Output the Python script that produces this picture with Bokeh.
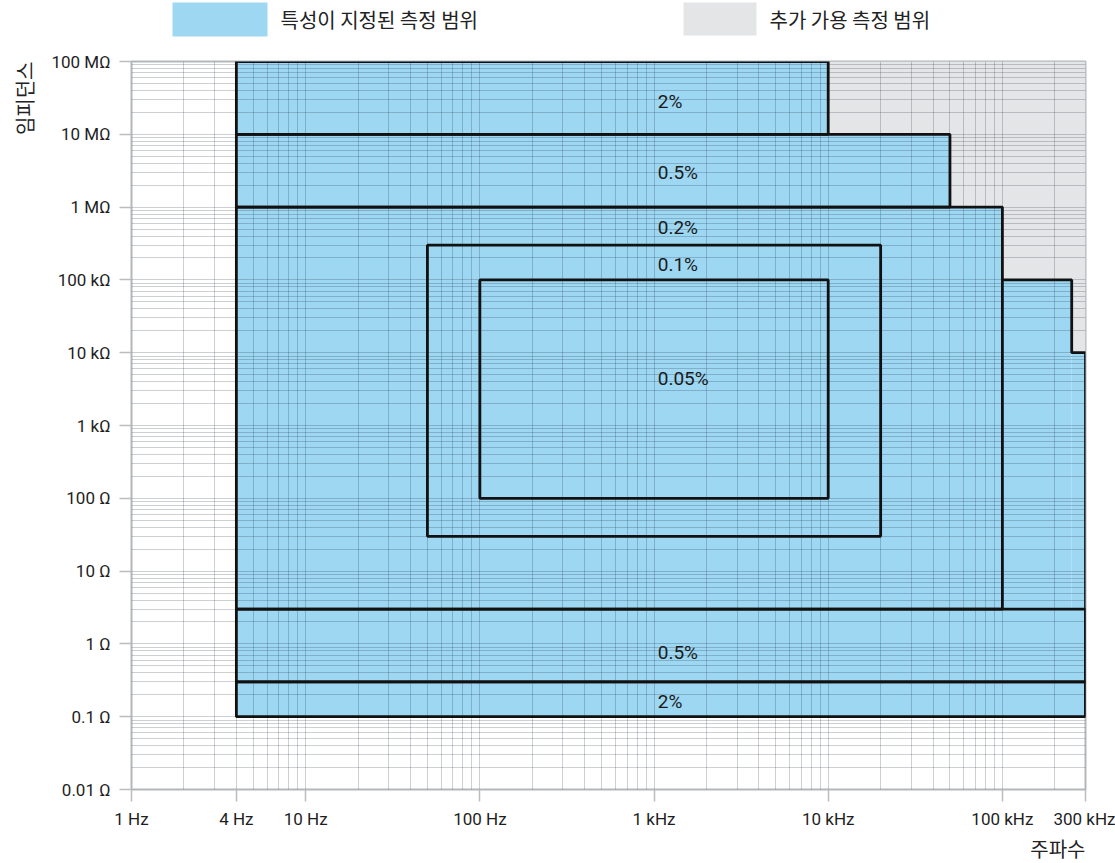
from bokeh.plotting import figure
from bokeh.layouts import column
from bokeh.models import FixedTicker, Title, Range1d
from bokeh.core.properties import value
from bokeh.embed import file_html
from bokeh.resources import INLINE

# Accuracy regions: frequency span (Hz) and impedance span (ohm)
acc_labels = ["2%", "0.5%", "0.2%", "0.1%", "0.05%", "0.5%", "2%"]
f_lo = [4, 4, 4, 50, 100, 4, 4]
f_hi = [10e3, 50e3, 100e3, 20e3, 10e3, 300e3, 300e3]
z_lo = [10e6, 1e6, 3, 30, 100, 0.3, 0.1]
z_hi = [100e6, 10e6, 1e6, 300e3, 100e3, 3, 0.3]

# Where each accuracy figure is written (Hz, ohm)
lab_f = [1050, 1050, 1050, 1050, 1050, 1050, 1050]
lab_z = [28e6, 3.0e6, 525e3, 163e3, 4.4e3, 0.76, 0.162]

# High-frequency extension of the specified range (step outline)
ext_f = [100e3, 250e3, 250e3, 300e3, 300e3]
ext_z = [100e3, 100e3, 10e3, 10e3, 0.1]

# Additional available measurement range
add_f = [10e3, 300e3]
add_z = [10e3, 100e6]

# Axis ticks
x_ticks = [1, 4, 10, 100, 1e3, 1e4, 1e5, 3e5]
x_tick_labels = ["1 Hz", "4 Hz", "10 Hz", "100 Hz", "1 kHz", "10 kHz", "100 kHz", "300 kHz"]
y_ticks = [0.01, 0.1, 1, 10, 100, 1e3, 1e4, 1e5, 1e6, 1e7, 1e8]
y_tick_labels = ["0.01 Ω", "0.1 Ω", "1 Ω", "10 Ω", "100 Ω", "1 kΩ", "10 kΩ",
                 "100 kΩ", "1 MΩ", "10 MΩ", "100 MΩ"]

# Legend entries
legend_labels = ["특성이 지정된 측정 범위", "추가 가용 측정 범위"]

BLUE = "#9dd7f2"
GRAY = "#e3e5e6"
NUM_FONT = "Roboto"
KR_FONT = "Noto Sans CJK KR"
LEFT, RIGHT = 131, 30

# ---- legend strip (page-pixel coordinates, y grows downward) ----
key = figure(width=1115, height=51, x_range=Range1d(LEFT, 1115 - RIGHT),
             y_range=Range1d(51, 0), output_backend="svg", toolbar_location=None,
             min_border_left=LEFT, min_border_right=RIGHT,
             min_border_top=0, min_border_bottom=0)
key.axis.visible = False
key.grid.visible = False
key.outline_line_color = None
key.background_fill_color = "white"
key.border_fill_color = "white"
key.quad(left=[172, 683], right=[267, 756], top=[2, 2], bottom=[36, 35],
         fill_color=[BLUE, GRAY], line_color=None)
key.text(x=[280, 769], y=[19, 19], text=legend_labels, text_align="left",
         text_baseline="middle", text_font=value(KR_FONT), text_font_size="20px",
         text_color="#222222")

# ---- main chart ----
p = figure(width=1115, height=812, x_axis_type="log", y_axis_type="log",
           x_range=(1, 300e3), y_range=(0.01, 100e6),
           output_backend="svg", toolbar_location=None,
           min_border_left=LEFT, min_border_right=RIGHT,
           min_border_top=10, min_border_bottom=74)
p.background_fill_color = "white"
p.border_fill_color = "white"
p.outline_line_color = "#b3b7ba"
p.outline_line_width = 2

# Fills sit underneath the grid so the grid shows through them
p.quad(left=[add_f[0]], right=[add_f[1]], bottom=[add_z[0]], top=[add_z[1]],
       fill_color=GRAY, line_color=None, level="image")
p.quad(left=f_lo, right=f_hi, bottom=z_lo, top=z_hi,
       fill_color=BLUE, line_color=None, level="image")
p.quad(left=[ext_f[0], ext_f[2]], right=[ext_f[1], ext_f[3]],
       bottom=[z_lo[2], z_lo[2]], top=[ext_z[0], ext_z[2]],
       fill_color=BLUE, line_color=None, level="image")

# Region outlines
p.quad(left=f_lo, right=f_hi, bottom=z_lo, top=z_hi,
       fill_color=None, line_color="#111111", line_width=2.8)
p.line(ext_f, ext_z, line_color="#111111", line_width=2.8)

p.text(x=lab_f, y=lab_z, text=acc_labels, text_align="left", text_baseline="middle",
       text_font=value(NUM_FONT), text_font_size="19px", text_color="#1a1a1a")

# Log grid at every 1..9 step of each decade
grid_x = [m * 10 ** k for k in range(0, 5) for m in range(1, 10)] + [1e5, 2e5, 3e5]
grid_y = [m * 10.0 ** k for k in range(-2, 8) for m in range(1, 10)] + [1e8]
p.xgrid.ticker = FixedTicker(ticks=grid_x)
p.ygrid.ticker = FixedTicker(ticks=grid_y)
for g in (p.xgrid, p.ygrid):
    g.grid_line_color = "#1c2a36"
    g.grid_line_alpha = 0.22
    g.grid_line_width = 1
    g.minor_grid_line_color = None

p.xaxis.ticker = FixedTicker(ticks=x_ticks, minor_ticks=[])
p.yaxis.ticker = FixedTicker(ticks=y_ticks, minor_ticks=[])
p.xaxis.major_label_overrides = {float(t): s for t, s in zip(x_ticks, x_tick_labels)}
p.yaxis.major_label_overrides = {float(t): s for t, s in zip(y_ticks, y_tick_labels)}
for ax in (p.xaxis, p.yaxis):
    ax.axis_line_color = None
    ax.major_tick_line_color = "#b9bdc0"
    ax.major_tick_line_width = 1.5
    ax.major_tick_out = 12
    ax.major_tick_in = 0
    ax.minor_tick_line_color = None
    ax.major_label_text_font = NUM_FONT
    ax.major_label_text_font_size = "17px"
    ax.major_label_text_color = "#1e1e1e"
    ax.major_label_standoff = 9
p.xaxis.major_label_standoff = 7

# Axis titles at the far ends of the axes
p.add_layout(Title(text="임피던스", align="right", vertical_align="top", standoff=16,
                   text_font=KR_FONT, text_font_size="20px", text_font_style="normal",
                   text_color="#222222"), "left")
p.add_layout(Title(text="주파수", align="right", standoff=0,
                   text_font=KR_FONT, text_font_size="20px", text_font_style="normal",
                   text_color="#222222"), "below")

page = column(key, p, spacing=0)
open("out.html", "w").write(file_html(page, INLINE))
